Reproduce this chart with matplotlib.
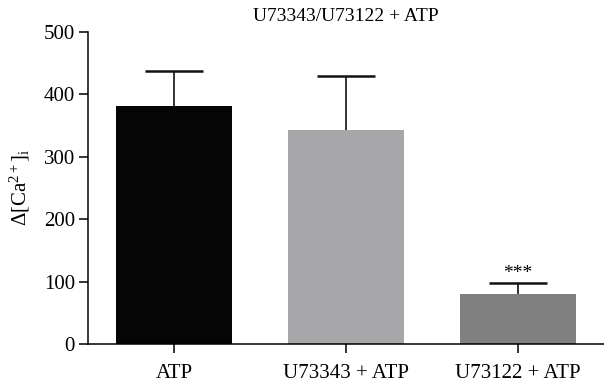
import matplotlib
matplotlib.use("Agg")
import matplotlib.pyplot as plt

categories = ["ATP", "U73343 + ATP", "U73122 + ATP"]
values = [382, 343, 80]
errors = [56, 87, 17]
colors = ["#050505", "#a7a7a9", "#808080"]
yticks = [0, 100, 200, 300, 400, 500]
title = "U73343/U73122 + ATP"
annotations = ["", "", "***"]

plt.rcParams['font.family'] = ['Liberation Serif', 'DejaVu Serif']
plt.rcParams['mathtext.fontset'] = 'custom'
plt.rcParams['mathtext.rm'] = 'Liberation Serif'
plt.rcParams['mathtext.it'] = 'Liberation Serif:italic'

fig = plt.figure(figsize=(6.04, 3.91), dpi=100)
ax = fig.add_axes([0.1457, 0.1202, 0.8543, 0.7980])
x = list(range(len(categories)))
ax.bar(x, values, width=0.67, color=colors, zorder=2)
eb = ax.errorbar(x, values, yerr=[[0]*len(values), errors], fmt='none',
                 ecolor='#111111', elinewidth=1.2, capsize=21, capthick=1.8, zorder=3)
eb[1][0].set_visible(False)
for xi, v, e, a in zip(x, values, errors, annotations):
    if a:
        ax.text(xi, v + e + 2, a, ha='center', va='bottom', fontsize=14)

ax.set_xlim(-0.5, 2.5)
ax.set_ylim(0, 500)
ax.set_yticks(yticks)
ax.set_xticks(x)
ax.set_xticklabels(categories)
for s in ['top', 'right']:
    ax.spines[s].set_visible(False)
for s in ['left', 'bottom']:
    ax.spines[s].set_linewidth(1.1)
ax.tick_params(axis='both', labelsize=15, length=6.5, width=1.1, direction='out')
ax.tick_params(axis='y', pad=3)
ax.tick_params(axis='x', pad=8)
ax.set_ylabel(r"$\Delta$[Ca$^{2+}$]$_{\mathrm{i}}$", fontsize=15, labelpad=8)
ax.set_title(title, fontsize=14, pad=8)
fig.savefig("out.png", dpi=100)
